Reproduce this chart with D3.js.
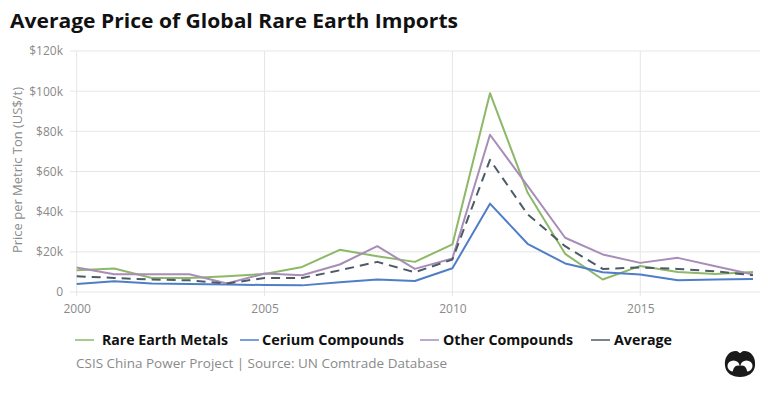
<!DOCTYPE html>
<html>
<head>
<meta charset="utf-8">
<script src="https://cdn.jsdelivr.net/npm/d3@7"></script>
<style>
  body { margin: 0; background: #fff; }
  svg { display: block; }
</style>
</head>
<body>
<svg id="chart" width="768" height="394"></svg>
<script>
// data
const years = [2000, 2001, 2002, 2003, 2004, 2005, 2006, 2007, 2008, 2009,
               2010, 2011, 2012, 2013, 2014, 2015, 2016, 2017, 2018];
const rareEarthMetals = [10800, 11700, 7000, 7000, 7800, 9000, 12500, 21000, 17800, 15000,
                         23700, 99000, 49500, 19000, 6200, 13000, 10000, 9000, 10000];
const ceriumCompounds = [4000, 5300, 4200, 4000, 3700, 3500, 3300, 4800, 6200, 5500,
                         11800, 44000, 24000, 14200, 9800, 8700, 5800, 6200, 6500];
const otherCompounds = [12200, 8800, 8800, 8800, 4200, 9200, 8300, 13700, 22800, 11500,
                        16700, 78300, 52800, 27000, 18700, 14500, 17000, 12800, 8700];
const average = [7800, 7000, 6200, 5800, 4200, 7000, 7000, 10800, 15000, 9800,
                 16200, 65800, 38700, 22800, 11500, 12200, 11500, 10300, 8300];

const yTicks = [0, 20000, 40000, 60000, 80000, 100000, 120000];
const xTicks = [2000, 2005, 2010, 2015];

const series = [
    {name: 'Rare Earth Metals', values: rareEarthMetals, color: '#8db868', dash: null},
    {name: 'Cerium Compounds', values: ceriumCompounds, color: '#4f7ec8', dash: null},
    {name: 'Other Compounds', values: otherCompounds, color: '#a78db8', dash: null},
    {name: 'Average', values: average, color: '#4c5b66', dash: '9,6'},
];

const svg = d3.select('#chart');
const plot = {left: 70, right: 760, top: 51, bottom: 292};

const x = d3.scaleLinear().domain([2000, 2018]).range([76.7, 753]);
const y = d3.scaleLinear().domain([0, 120000]).range([plot.bottom, plot.top]);

// title
svg.append('text')
    .attr('x', 10).attr('y', 28)
    .attr('font-family', '"Open Sans", sans-serif')
    .attr('font-weight', 700)
    .attr('font-size', 20)
    .attr('fill', '#111')
    .attr('textLength', 448)
    .attr('lengthAdjust', 'spacingAndGlyphs')
    .text('Average Price of Global Rare Earth Imports');

// grid
const grid = svg.append('g');
grid.selectAll('line.h').data(yTicks).join('line')
    .attr('x1', plot.left).attr('x2', plot.right)
    .attr('y1', d => y(d)).attr('y2', d => y(d))
    .attr('stroke', '#e6e6e6').attr('stroke-width', 1);
grid.selectAll('line.v').data(xTicks).join('line')
    .attr('x1', d => x(d)).attr('x2', d => x(d))
    .attr('y1', plot.top).attr('y2', plot.bottom + 4)
    .attr('stroke', '#e6e6e6').attr('stroke-width', 1);

// axes (labels only, no domain)
const yAxis = svg.append('g')
    .attr('transform', `translate(${plot.left - 4},0)`)
    .call(d3.axisLeft(y).tickValues(yTicks).tickSize(0)
        .tickFormat(d => d === 0 ? '0' : `$${d / 1000}k`));
const xAxis = svg.append('g')
    .attr('transform', `translate(0,${plot.bottom + 9})`)
    .call(d3.axisBottom(x).tickValues(xTicks).tickSize(0).tickFormat(d3.format('d')));
[yAxis, xAxis].forEach(a => {
    a.select('.domain').remove();
    a.selectAll('text')
        .attr('font-family', '"Open Sans", sans-serif')
        .attr('font-size', 12)
        .attr('fill', '#8a8a8a');
});

// y axis title
svg.append('text')
    .attr('transform', 'translate(22,170) rotate(-90)')
    .attr('text-anchor', 'middle')
    .attr('font-family', '"Open Sans", sans-serif')
    .attr('font-size', 12.5)
    .attr('fill', '#8a8a8a')
    .attr('textLength', 166)
    .attr('lengthAdjust', 'spacingAndGlyphs')
    .text('Price per Metric Ton (US$/t)');

// lines
const line = d3.line()
    .x((d, i) => x(years[i]))
    .y(d => y(d));

svg.append('g').selectAll('path')
    .data(series)
    .join('path')
    .attr('d', d => line(d.values))
    .attr('fill', 'none')
    .attr('stroke', d => d.color)
    .attr('stroke-width', 2)
    .attr('stroke-dasharray', d => d.dash)
    .attr('stroke-linejoin', 'round');

// legend
const legendX = [75, 240, 420, 591];
const legendW = [126, 142, 130, 58];
const legend = svg.append('g').attr('transform', 'translate(0,340)');
const items = legend.selectAll('g').data(series).join('g')
    .attr('transform', (d, i) => `translate(${legendX[i]},0)`);
items.append('line')
    .attr('x1', 0).attr('x2', 19)
    .attr('stroke', d => d.color).attr('stroke-width', 1.5);
items.append('text')
    .attr('x', (d, i) => i === 0 ? 27 : i === 1 ? 22 : 23).attr('y', 5)
    .attr('font-family', '"Open Sans", sans-serif')
    .attr('font-weight', 700)
    .attr('font-size', 14)
    .attr('fill', '#111')
    .attr('textLength', (d, i) => legendW[i])
    .attr('lengthAdjust', 'spacingAndGlyphs')
    .text(d => d.name);

// source
svg.append('text')
    .attr('x', 76).attr('y', 368)
    .attr('font-family', '"Open Sans", sans-serif')
    .attr('font-size', 13.5)
    .attr('fill', '#8a8a8a')
    .attr('textLength', 371)
    .attr('lengthAdjust', 'spacingAndGlyphs')
    .text('CSIS China Power Project | Source: UN Comtrade Database');

// logo
const logo = svg.append('g').attr('transform', 'translate(740,363)').attr('fill', '#1a1a1a');
logo.append('path')
    .attr('d', 'M-15,3 C-16,-6 -11,-12 -4,-12 C-2,-12 -1,-10 0,-10 C1,-10 2,-12 4,-12 C11,-12 16,-6 15,3 C14,10 8,14 0,14 C-8,14 -14,10 -15,3 Z');
logo.append('ellipse').attr('cx', -6.5).attr('cy', 3).attr('rx', 6).attr('ry', 5.5).attr('fill', '#fff');
logo.append('ellipse').attr('cx', 6.5).attr('cy', 3).attr('rx', 6).attr('ry', 5.5).attr('fill', '#fff');
logo.append('path')
    .attr('d', 'M-7,11 C-8,4 -3,1 0,3 C3,1 8,4 7,11 Z');
</script>
</body>
</html>
